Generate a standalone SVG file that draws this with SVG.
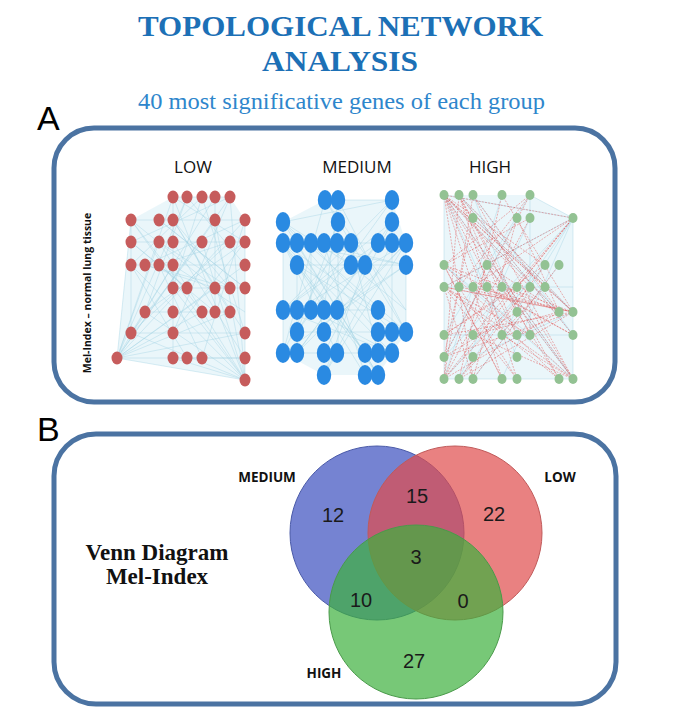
<svg xmlns="http://www.w3.org/2000/svg" width="680" height="715" viewBox="0 0 680 715">
<defs>
<style>
.title{font-family:"Liberation Serif","DejaVu Serif",serif;font-weight:bold;fill:#1c70b6;font-size:30px;text-anchor:middle}
.sub{font-family:"Liberation Serif","DejaVu Serif",serif;fill:#2e86cc;font-size:24px;text-anchor:middle}
.plabel{font-family:"Liberation Sans","DejaVu Sans",sans-serif;font-size:34px;fill:#000}
.frame{fill:#fff;stroke:#4b73a2;stroke-width:5}
.ghead{font-family:"Open Sans","Liberation Sans",sans-serif;font-size:17px;fill:#111;text-anchor:middle}
.edge{fill:none;stroke:#9fd3e3;stroke-width:0.5;stroke-opacity:0.8}
.redge{fill:none;stroke:#e04040;stroke-width:0.55;stroke-dasharray:2 1.2;stroke-opacity:0.75}
.haze{fill:#dcf0f6;opacity:0.6}
.nl ellipse{fill:#c65c5c}
.nm ellipse{fill:#2a8ae2}
.nh ellipse{fill:#93c293}
.num{font-family:"Liberation Sans","DejaVu Sans",sans-serif;font-size:20px;fill:#1a1a1a;text-anchor:middle}
.vlab{font-family:"Open Sans","Liberation Sans",sans-serif;font-weight:bold;font-size:13.5px;fill:#111;text-anchor:middle}
.vtitle{font-family:"Liberation Serif","DejaVu Serif",serif;font-weight:bold;font-size:23px;fill:#111;text-anchor:middle}
</style>
</defs>
<rect width="680" height="715" fill="#fff"/>

<g id="title">
<text class="title" x="340.5" y="36" textLength="405" lengthAdjust="spacingAndGlyphs">TOPOLOGICAL NETWORK</text>
<text class="title" x="340" y="71" textLength="156" lengthAdjust="spacingAndGlyphs">ANALYSIS</text>
<text class="sub" x="341.5" y="109" textLength="407" lengthAdjust="spacingAndGlyphs">40 most significative genes of each group</text>
</g>

<g id="panelA">
<text class="plabel" x="37" y="130">A</text>
<rect class="frame" x="54" y="128" width="561" height="274" rx="40" ry="40"/>
<text class="ghead" x="193" y="173">LOW</text>
<text class="ghead" x="357" y="173">MEDIUM</text>
<text class="ghead" x="490" y="173">HIGH</text>
<text x="0" y="0" transform="translate(91,293) rotate(-90)" font-family="'Open Sans','Liberation Sans',sans-serif" font-size="10.5" font-weight="bold" fill="#111" text-anchor="middle">Mel-Index – normal lung tissue</text>
</g>

<g id="low-network">
<polygon class="haze" points="117,358 131,220 173,197 230,197 245,220 245,380"/>
<g id="low-edges">
<path class="edge" d="M117 358L173 197M117 358L230 197M117 358L245 220M117 358L245 265M117 358L245 333M117 358L131 220M117 358L215 288M117 358L245 380M117 358L245 358M117 358L159 242M117 358L202 312M117 358L187 197M117 358L215 220M117 358L173 265M117 358L230 312
M245 380L173 197M245 380L131 220M245 380L131 265M245 380L145 312M245 380L173 358M245 380L215 220M245 380L159 242M245 380L173 288M245 380L230 197M245 380L131 333M245 380L202 242
M131 220L245 220M131 242L245 242M131 265L245 265M173 288L245 288M145 312L230 312M131 333L245 333M173 358L245 358M173 197L230 197
M173 197L245 242M230 197L131 242M187 197L145 312M202 197L245 333M215 197L131 333M173 220L230 312M159 220L245 288M245 220L145 265M131 242L215 312M202 242L131 333M173 242L245 358M230 242L159 265M145 265L230 288M159 265L202 358M173 265L245 312M131 220L131 333M245 220L245 380M173 197L173 358M215 197L215 312M187 197L245 265M131 265L202 197M173 220L245 333M159 242L230 288M131 220L215 288M187 288L131 242M245 242L173 333M202 312L131 220M230 288L173 220M145 312L245 242M173 333L230 197M202 358L245 220M187 358L131 265M131 333L230 242M245 288L159 220M215 288L145 265M173 288L202 197"/>
</g>
<g class="nl">
<ellipse id="low-n1" cx="173" cy="197" rx="5.5" ry="6.5"/><ellipse id="low-n2" cx="187" cy="197" rx="5.5" ry="6.5"/><ellipse id="low-n3" cx="202" cy="197" rx="5.5" ry="6.5"/><ellipse id="low-n4" cx="215" cy="197" rx="5.5" ry="6.5"/><ellipse id="low-n5" cx="230" cy="197" rx="5.5" ry="6.5"/>
<ellipse id="low-n6" cx="131" cy="220" rx="5.5" ry="6.5"/><ellipse id="low-n7" cx="159" cy="220" rx="5.5" ry="6.5"/><ellipse id="low-n8" cx="173" cy="220" rx="5.5" ry="6.5"/><ellipse id="low-n9" cx="215" cy="220" rx="5.5" ry="6.5"/><ellipse id="low-n10" cx="245" cy="220" rx="5.5" ry="6.5"/>
<ellipse id="low-n11" cx="131" cy="242" rx="5.5" ry="6.5"/><ellipse id="low-n12" cx="159" cy="242" rx="5.5" ry="6.5"/><ellipse id="low-n13" cx="173" cy="242" rx="5.5" ry="6.5"/><ellipse id="low-n14" cx="202" cy="242" rx="5.5" ry="6.5"/><ellipse id="low-n15" cx="230" cy="242" rx="5.5" ry="6.5"/><ellipse id="low-n16" cx="245" cy="242" rx="5.5" ry="6.5"/>
<ellipse id="low-n17" cx="131" cy="265" rx="5.5" ry="6.5"/><ellipse id="low-n18" cx="145" cy="265" rx="5.5" ry="6.5"/><ellipse id="low-n19" cx="159" cy="265" rx="5.5" ry="6.5"/><ellipse id="low-n20" cx="173" cy="265" rx="5.5" ry="6.5"/><ellipse id="low-n21" cx="245" cy="265" rx="5.5" ry="6.5"/>
<ellipse id="low-n22" cx="173" cy="288" rx="5.5" ry="6.5"/><ellipse id="low-n23" cx="187" cy="288" rx="5.5" ry="6.5"/><ellipse id="low-n24" cx="215" cy="288" rx="5.5" ry="6.5"/><ellipse id="low-n25" cx="230" cy="288" rx="5.5" ry="6.5"/><ellipse id="low-n26" cx="245" cy="288" rx="5.5" ry="6.5"/>
<ellipse id="low-n27" cx="145" cy="312" rx="5.5" ry="6.5"/><ellipse id="low-n28" cx="173" cy="312" rx="5.5" ry="6.5"/><ellipse id="low-n29" cx="202" cy="312" rx="5.5" ry="6.5"/><ellipse id="low-n30" cx="215" cy="312" rx="5.5" ry="6.5"/><ellipse id="low-n31" cx="230" cy="312" rx="5.5" ry="6.5"/>
<ellipse id="low-n32" cx="131" cy="333" rx="5.5" ry="6.5"/><ellipse id="low-n33" cx="173" cy="333" rx="5.5" ry="6.5"/><ellipse id="low-n34" cx="245" cy="333" rx="5.5" ry="6.5"/>
<ellipse id="low-n35" cx="117" cy="358" rx="5.5" ry="6.5"/><ellipse id="low-n36" cx="173" cy="358" rx="5.5" ry="6.5"/><ellipse id="low-n37" cx="187" cy="358" rx="5.5" ry="6.5"/><ellipse id="low-n38" cx="202" cy="358" rx="5.5" ry="6.5"/><ellipse id="low-n39" cx="245" cy="358" rx="5.5" ry="6.5"/>
<ellipse id="low-n40" cx="245" cy="380" rx="5.5" ry="6.5"/>
</g>
</g>

<g id="medium-network">
<polygon class="haze" points="283,222 325,200 392,200 406,243 406,332 378,375 324,375 283,353"/>
<g id="medium-edges">
<path class="edge" d="M283 222L392 200M283 222L406 332M283 222L378 375M283 243L406 243M283 310L378 310M283 353L392 353M297 265L406 265M297 332L406 332M325 200L392 200M325 200L283 353M338 200L406 332M392 200L283 310M392 222L297 353M283 243L392 353M297 243L378 375M311 243L406 265M324 243L365 375M337 243L283 353M351 243L297 332M378 243L283 310M392 243L324 375M406 243L297 353M297 265L406 332M351 265L283 222M365 265L324 375M406 265L283 243M283 310L392 222M297 310L406 243M311 310L392 353M324 310L338 200M337 310L406 265M378 310L283 243M297 332L392 200M324 332L406 243M378 332L283 222M392 332L311 243M406 332L325 200M283 353L406 265M297 353L378 243M324 353L392 222M337 353L283 243M365 353L297 265M378 353L351 243M392 353L283 310M324 375L406 243M365 375L283 243M378 375L297 265M283 222L283 353M406 243L406 332M338 222L338 353M392 200L392 353M311 243L311 310M351 243L351 265M297 265L297 353M325 200L406 310M338 222L297 332M283 243L365 353M406 310L324 243"/>
</g>
<g class="nm">
<ellipse id="med-n1" cx="325" cy="200" rx="7.2" ry="10"/><ellipse id="med-n2" cx="338" cy="200" rx="7.2" ry="10"/><ellipse id="med-n3" cx="392" cy="200" rx="7.2" ry="10"/>
<ellipse id="med-n4" cx="283" cy="222" rx="7.2" ry="10"/><ellipse id="med-n5" cx="338" cy="222" rx="7.2" ry="10"/><ellipse id="med-n6" cx="392" cy="222" rx="7.2" ry="10"/>
<ellipse id="med-n7" cx="283" cy="243" rx="7.2" ry="10"/><ellipse id="med-n8" cx="297" cy="243" rx="7.2" ry="10"/><ellipse id="med-n9" cx="311" cy="243" rx="7.2" ry="10"/><ellipse id="med-n10" cx="324" cy="243" rx="7.2" ry="10"/><ellipse id="med-n11" cx="337" cy="243" rx="7.2" ry="10"/><ellipse id="med-n12" cx="351" cy="243" rx="7.2" ry="10"/><ellipse id="med-n13" cx="378" cy="243" rx="7.2" ry="10"/><ellipse id="med-n14" cx="392" cy="243" rx="7.2" ry="10"/><ellipse id="med-n15" cx="406" cy="243" rx="7.2" ry="10"/>
<ellipse id="med-n16" cx="297" cy="265" rx="7.2" ry="10"/><ellipse id="med-n17" cx="351" cy="265" rx="7.2" ry="10"/><ellipse id="med-n18" cx="365" cy="265" rx="7.2" ry="10"/><ellipse id="med-n19" cx="406" cy="265" rx="7.2" ry="10"/>
<ellipse id="med-n20" cx="283" cy="310" rx="7.2" ry="10"/><ellipse id="med-n21" cx="297" cy="310" rx="7.2" ry="10"/><ellipse id="med-n22" cx="311" cy="310" rx="7.2" ry="10"/><ellipse id="med-n23" cx="324" cy="310" rx="7.2" ry="10"/><ellipse id="med-n24" cx="337" cy="310" rx="7.2" ry="10"/><ellipse id="med-n25" cx="378" cy="310" rx="7.2" ry="10"/>
<ellipse id="med-n26" cx="297" cy="332" rx="7.2" ry="10"/><ellipse id="med-n27" cx="324" cy="332" rx="7.2" ry="10"/><ellipse id="med-n28" cx="378" cy="332" rx="7.2" ry="10"/><ellipse id="med-n29" cx="392" cy="332" rx="7.2" ry="10"/><ellipse id="med-n30" cx="406" cy="332" rx="7.2" ry="10"/>
<ellipse id="med-n31" cx="283" cy="353" rx="7.2" ry="10"/><ellipse id="med-n32" cx="297" cy="353" rx="7.2" ry="10"/><ellipse id="med-n33" cx="324" cy="353" rx="7.2" ry="10"/><ellipse id="med-n34" cx="337" cy="353" rx="7.2" ry="10"/><ellipse id="med-n35" cx="365" cy="353" rx="7.2" ry="10"/><ellipse id="med-n36" cx="378" cy="353" rx="7.2" ry="10"/><ellipse id="med-n37" cx="392" cy="353" rx="7.2" ry="10"/>
<ellipse id="med-n38" cx="324" cy="375" rx="7.2" ry="10"/><ellipse id="med-n39" cx="365" cy="375" rx="7.2" ry="10"/><ellipse id="med-n40" cx="378" cy="375" rx="7.2" ry="10"/>
</g>
</g>

<g id="high-network">
<polygon class="haze" points="444,195 530,195 573,218 573,379 444,379"/>
<g id="high-edges">
<path class="edge" d="M444 195L573 218M444 195L573 379M459 195L573 312M473 195L573 335M502 195L444 379M530 195L444 335M530 195L573 218M573 218L444 287M573 218L459 379M573 218L502 379M444 265L573 379M444 287L573 287M444 335L573 335M444 379L573 379M473 218L573 312M517 218L444 357M530 218L459 379M545 265L444 379M559 265L473 379M487 265L573 379M444 357L573 218M473 357L573 312M517 357L444 195M502 335L573 218M530 335L444 265M559 312L444 195M573 335L459 195M517 312L473 195M444 195L444 379M573 218L573 379M530 195L530 335"/>
<path class="redge" d="M444 195L573 218M444 195L573 312M444 195L573 379M444 195L559 379M444 195L517 335M444 195L530 287M444 195L545 265M444 195L502 379M444 195L473 379M444 195L559 312M459 195L573 335M459 195L559 379M459 195L530 335M459 195L573 312M459 195L517 379M459 195L444 379M444 287L573 379M444 287L573 312M444 287L573 218M444 287L559 379M444 287L530 335M444 287L517 379M444 287L473 379M444 265L573 312M444 265L559 379M444 265L530 195M444 265L502 379M444 265L573 335M444 265L530 218M473 195L573 379M473 195L444 379M473 195L559 312M473 218L573 312M473 218L444 357M473 287L573 379M473 287L573 218M459 287L573 312M459 287L530 195M487 265L573 379M487 265L444 379M487 265L559 312M487 287L573 335M573 312L444 335M573 312L444 357M573 312L459 379M573 312L473 287M573 312L444 287M559 312L444 379M559 312L502 287M559 312L473 335M545 265L444 335M545 265L459 379M545 287L444 195M530 218L444 379M517 218L473 379M517 218L559 312M502 195L573 312M502 195L459 379M530 195L444 357M573 218L473 335M573 218L444 379M573 218L517 287M573 379L473 335M573 379L517 287M573 379L502 335M444 335L517 287M444 357L517 312M444 379L530 287M459 379L545 287M473 379L559 265M502 379L444 265M517 379L459 287M502 335L444 195M517 335L459 195"/>
</g>
<g class="nh">
<ellipse id="high-n1" cx="444" cy="195" rx="4.5" ry="5"/><ellipse id="high-n2" cx="459" cy="195" rx="4.5" ry="5"/><ellipse id="high-n3" cx="473" cy="195" rx="4.5" ry="5"/><ellipse id="high-n4" cx="502" cy="195" rx="4.5" ry="5"/><ellipse id="high-n5" cx="530" cy="195" rx="4.5" ry="5"/>
<ellipse id="high-n6" cx="473" cy="218" rx="4.5" ry="5"/><ellipse id="high-n7" cx="517" cy="218" rx="4.5" ry="5"/><ellipse id="high-n8" cx="530" cy="218" rx="4.5" ry="5"/><ellipse id="high-n9" cx="573" cy="218" rx="4.5" ry="5"/>
<ellipse id="high-n10" cx="444" cy="265" rx="4.5" ry="5"/><ellipse id="high-n11" cx="487" cy="265" rx="4.5" ry="5"/><ellipse id="high-n12" cx="545" cy="265" rx="4.5" ry="5"/><ellipse id="high-n13" cx="559" cy="265" rx="4.5" ry="5"/>
<ellipse id="high-n14" cx="444" cy="287" rx="4.5" ry="5"/><ellipse id="high-n15" cx="459" cy="287" rx="4.5" ry="5"/><ellipse id="high-n16" cx="473" cy="287" rx="4.5" ry="5"/><ellipse id="high-n17" cx="487" cy="287" rx="4.5" ry="5"/><ellipse id="high-n18" cx="502" cy="287" rx="4.5" ry="5"/><ellipse id="high-n19" cx="517" cy="287" rx="4.5" ry="5"/><ellipse id="high-n20" cx="530" cy="287" rx="4.5" ry="5"/><ellipse id="high-n21" cx="545" cy="287" rx="4.5" ry="5"/>
<ellipse id="high-n22" cx="517" cy="312" rx="4.5" ry="5"/><ellipse id="high-n23" cx="559" cy="312" rx="4.5" ry="5"/><ellipse id="high-n24" cx="573" cy="312" rx="4.5" ry="5"/>
<ellipse id="high-n25" cx="444" cy="335" rx="4.5" ry="5"/><ellipse id="high-n26" cx="473" cy="335" rx="4.5" ry="5"/><ellipse id="high-n27" cx="502" cy="335" rx="4.5" ry="5"/><ellipse id="high-n28" cx="517" cy="335" rx="4.5" ry="5"/><ellipse id="high-n29" cx="530" cy="335" rx="4.5" ry="5"/><ellipse id="high-n30" cx="573" cy="335" rx="4.5" ry="5"/>
<ellipse id="high-n31" cx="444" cy="357" rx="4.5" ry="5"/><ellipse id="high-n32" cx="473" cy="357" rx="4.5" ry="5"/><ellipse id="high-n33" cx="517" cy="357" rx="4.5" ry="5"/>
<ellipse id="high-n34" cx="444" cy="379" rx="4.5" ry="5"/><ellipse id="high-n35" cx="459" cy="379" rx="4.5" ry="5"/><ellipse id="high-n36" cx="473" cy="379" rx="4.5" ry="5"/><ellipse id="high-n37" cx="502" cy="379" rx="4.5" ry="5"/><ellipse id="high-n38" cx="517" cy="379" rx="4.5" ry="5"/><ellipse id="high-n39" cx="559" cy="379" rx="4.5" ry="5"/><ellipse id="high-n40" cx="573" cy="379" rx="4.5" ry="5"/>
</g>
</g>

<g id="panelB">
<text class="plabel" x="37" y="441">B</text>
<rect class="frame" x="54" y="434" width="562" height="270" rx="42" ry="42"/>
<text class="vtitle" x="157" y="560">Venn Diagram</text>
<text class="vtitle" x="157" y="584">Mel-Index</text>
</g>

<g id="venn">
<g id="set-medium"><circle cx="377" cy="533" r="87" fill="#3a4fbf" fill-opacity="0.7" stroke="#4a5aa8" stroke-width="1"/></g>
<g id="set-low"><circle cx="455" cy="533" r="87" fill="#e04b4b" fill-opacity="0.7" stroke="#c05a5a" stroke-width="1"/></g>
<g id="set-high"><circle cx="416" cy="612" r="87" fill="#3db03d" fill-opacity="0.7" stroke="#4a9a4a" stroke-width="1"/></g>
<text class="vlab" x="267" y="482">MEDIUM</text>
<text class="vlab" x="560" y="482">LOW</text>
<text class="vlab" x="324" y="678">HIGH</text>
<text class="num" x="333" y="522">12</text>
<text class="num" x="417" y="503">15</text>
<text class="num" x="494" y="521">22</text>
<text class="num" x="416" y="564">3</text>
<text class="num" x="361" y="607">10</text>
<text class="num" x="463" y="608">0</text>
<text class="num" x="414" y="668">27</text>
</g>
</svg>
